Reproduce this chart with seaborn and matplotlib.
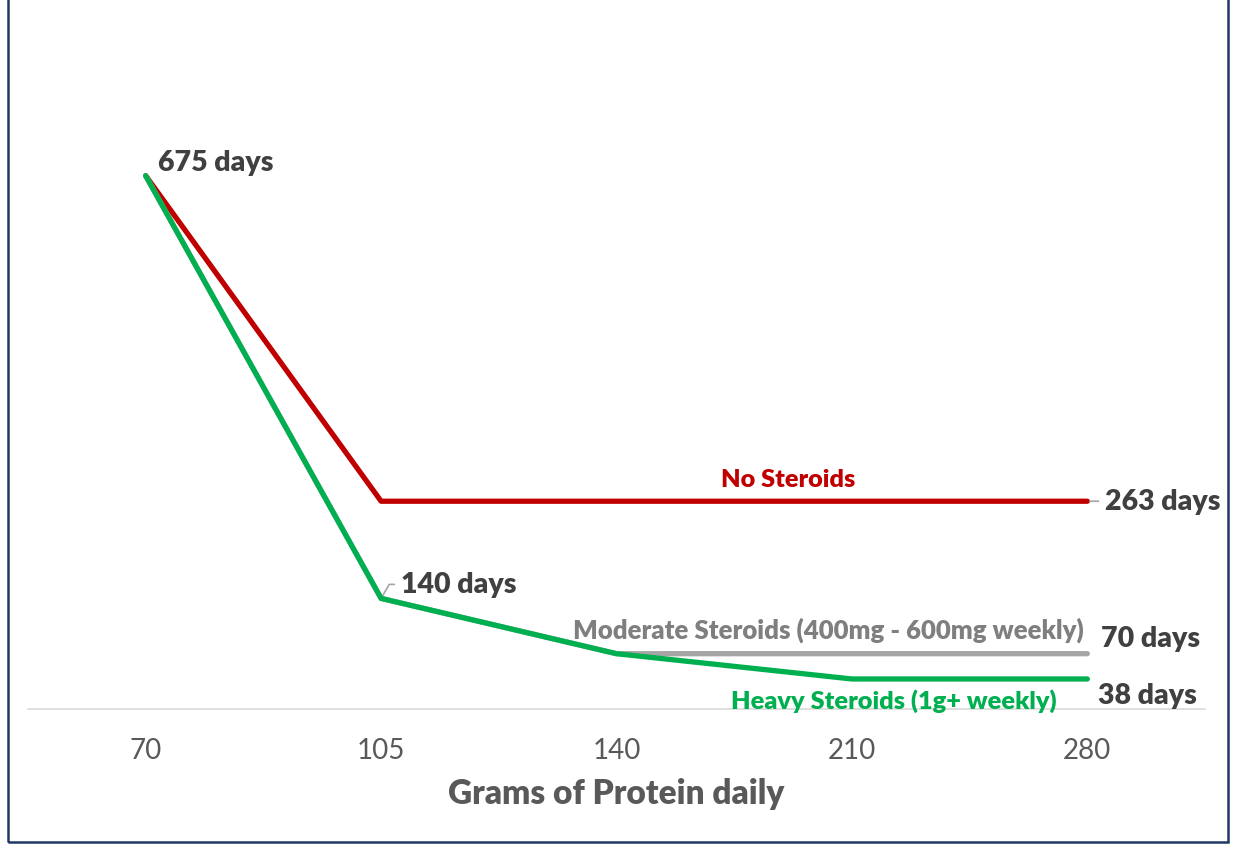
import matplotlib
matplotlib.use("Agg")
import matplotlib.pyplot as plt
import seaborn as sns
import numpy as np
from matplotlib.patches import Rectangle

protein = ["70", "105", "140", "210", "280"]
no_steroids = [675, 263, 263, 263, 263]
moderate = [675, 140, 70, 70, 70]
heavy = [675, 140, 70, 38, 38]

sns.set_theme(style="white")
plt.rcParams['font.family'] = ['Lato', 'DejaVu Sans']

fig = plt.figure(figsize=(12.36, 8.53), dpi=100)
ax = fig.add_axes([28/1236, 1-710/853, (1205-28)/1236, (710-78)/853])

pos = np.arange(len(protein))
RED, GREY, GREEN = "#C00000", "#A5A5A5", "#00B050"
sns.lineplot(x=pos, y=no_steroids, ax=ax, color=RED, lw=3.8, zorder=3, solid_capstyle='round')
sns.lineplot(x=pos, y=moderate, ax=ax, color=GREY, lw=3.8, zorder=4, solid_capstyle='round')
sns.lineplot(x=pos, y=heavy, ax=ax, color=GREEN, lw=3.8, zorder=5, solid_capstyle='round')

ax.set_xlim(-0.5, len(protein) - 0.5)
ax.set_ylim(0, 800)
ax.set_xticks(pos)
ax.set_xticklabels(protein, fontsize=20, color="#595959")
ax.set_yticks([])
ax.tick_params(axis='x', length=0, pad=20)
for s in ["top", "left", "right"]:
    ax.spines[s].set_visible(False)
ax.spines["bottom"].set_color("#D9D9D9")
ax.spines["bottom"].set_linewidth(1.2)
ax.set_xlabel("Grams of Protein daily", fontsize=24, fontweight="heavy", color="#595959", labelpad=10)

VAL = "#404040"
def val_label(i, v, dx, dy):
    ax.annotate(f"{v} days", xy=(pos[i], v), xytext=(dx, dy), textcoords="offset pixels",
                fontsize=20.5, fontweight="heavy", color=VAL, ha="left", va="center", zorder=6)

val_label(0, heavy[0], 12, 14)
val_label(1, heavy[1], 20, 14)
val_label(4, no_steroids[4], 18, 0)
val_label(4, moderate[4], 14, 16)
val_label(4, heavy[4], 11, -16)

# leader lines
ax.annotate("", xy=(pos[1], heavy[1]), xytext=(16, 14), textcoords="offset pixels",
            arrowprops=dict(arrowstyle="-", color="#A5A5A5", lw=1.2,
                            connectionstyle="angle,angleA=0,angleB=60,rad=0"))
ax.annotate("", xy=(pos[4], no_steroids[4]), xytext=(14, 0), textcoords="offset pixels",
            arrowprops=dict(arrowstyle="-", color="#A5A5A5", lw=1.2))

ax.annotate("No Steroids", xy=(2.73, no_steroids[2]), xytext=(0, 22), textcoords="offset pixels",
            fontsize=18.2, fontweight="heavy", color=RED, ha="center", va="center")
ax.annotate("Moderate Steroids (400mg - 600mg weekly)", xy=(2.90, moderate[3]), xytext=(0, 24),
            textcoords="offset pixels", fontsize=18.5, fontweight="heavy", color="#7F7F7F",
            ha="center", va="center")
ax.annotate("Heavy Steroids (1g+ weekly)", xy=(3.18, heavy[3]), xytext=(0, -21),
            textcoords="offset pixels", fontsize=18.3, fontweight="heavy", color=GREEN,
            ha="center", va="center")

fig.patches.append(Rectangle((8/1236, 1-843/853), (1228-8)/1236, 1.0, transform=fig.transFigure,
                             fill=False, edgecolor="#1F3864", lw=1.8, zorder=10))

fig.savefig("out.png", dpi=100)
